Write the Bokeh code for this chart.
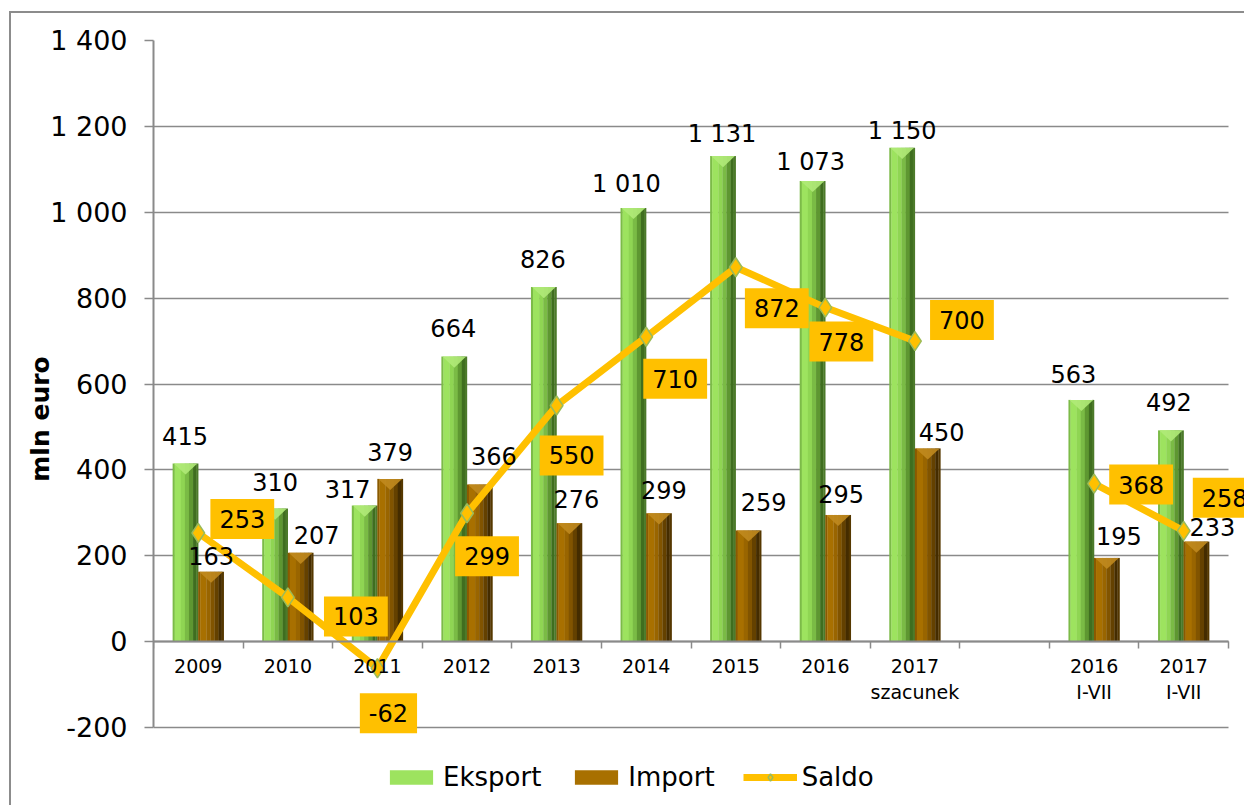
from bokeh.plotting import figure
from bokeh.models import Range1d, FixedTicker, ColumnDataSource, Legend, LegendItem
from bokeh.transform import dodge
from bokeh.core.properties import value
from bokeh.embed import file_html
from bokeh.resources import INLINE

NaN = float("nan")

# ---------------- data ----------------
categories = ["2009", "2010", "2011", "2012", "2013", "2014", "2015", "2016",
              "2017\nszacunek", "", "2016\nI-VII", "2017\nI-VII"]
eksport = [415, 310, 317, 664, 826, 1010, 1131, 1073, 1150, NaN, 563, 492]
import_ = [163, 207, 379, 366, 276, 299, 259, 295, 450, NaN, 195, 233]
saldo = [253, 103, -62, 299, 550, 710, 872, 778, 700, NaN, 368, 258]
y_ticks = [-200, 0, 200, 400, 600, 800, 1000, 1200, 1400]

# ---------------- label placement (style, screen px) ----------------
eks_dx = [-0.5, 0, -17, -1, -1, -7, -1, -2, 0, 0, -8, -2]
eks_gap = [17, 17, 7, 19, 18, 14, 12, 9, 7, 0, 16, 18]
imp_dx = [0, 16, 0, 14, 7, 5, 15, 3, 14, 0, 12, 16]
imp_gap = [6, 8, 17, 18, 14, 13, 18, 11, 6, 0, 12, 5]
sal_dx = [44, 68, 11, 20, 15, 29, 41, 16, 47, 0, 47, 41]
sal_dy = [-14, 19, 45, 43, 50, 42, 41, 34, -21, 0, 1, -33]
BASE_SHIFT = 10  # renderer places the alphabetic baseline this much lower


def fmt(v):
    if v != v:
        return ""
    return f"{int(v):,}".replace(",", " ")


FONT = "DejaVu Sans"
GRID = "#8a8a8a"

# layout (canvas px): value axis spans TOP..AXIS_BOTTOM, frame continues down
# to FRAME_BOTTOM so the legend can sit under the -200 line; the category
# area spans LEFT..AXIS_RIGHT, frame continues to the canvas edge
W_CANVAS, H = 1235, 794
TOP, AXIS_BOTTOM, FRAME_BOTTOM = 27, 714, 784
LEFT, AXIS_RIGHT = 142, 1217
y_lo, y_hi = y_ticks[0], y_ticks[-1]
px_per_unit = (AXIS_BOTTOM - TOP) / (y_hi - y_lo)
y_start = y_hi - (FRAME_BOTTOM - TOP) / px_per_unit
n = len(categories)
px_per_cat = (AXIS_RIGHT - LEFT) / n
x_lo, x_hi = -0.5, n - 0.5
x_end = x_hi + (W_CANVAS - AXIS_RIGHT) / px_per_cat

xs = list(range(n))
src = ColumnDataSource(dict(
    x=xs, eks=eksport, imp=import_, sal=saldo,
    eks_t=[fmt(v) for v in eksport], imp_t=[fmt(v) for v in import_],
    sal_t=[fmt(v) for v in saldo],
    eks_dx=eks_dx, eks_dy=[-(g + BASE_SHIFT) for g in eks_gap],
    imp_dx=imp_dx, imp_dy=[-(g + BASE_SHIFT) for g in imp_gap],
    sal_dx=sal_dx, sal_dy=sal_dy,
))

p = figure(width=W_CANVAS, height=H,
           x_range=Range1d(x_lo, x_end),
           y_range=Range1d(y_start, y_hi),
           output_backend="svg", toolbar_location=None,
           min_border_left=LEFT, min_border_right=0,
           min_border_top=TOP, min_border_bottom=H - FRAME_BOTTOM)
p.styles = {"margin-left": "9px", "margin-top": "11px",
            "border-left": "2px solid #8c8c8c", "border-top": "2px solid #8c8c8c"}
p.outline_line_color = None
p.background_fill_color = "white"
p.border_fill_color = "white"

# grid / axes
p.xgrid.grid_line_color = None
p.ygrid.grid_line_color = GRID
p.ygrid.grid_line_width = 1.5
try:
    p.ygrid[0].cross_bounds = (x_lo, x_hi)
except Exception:
    p.ygrid.grid_line_color = None
    p.segment(x0=x_lo, x1=x_hi, y0=y_ticks, y1=y_ticks,
              line_color=GRID, line_width=1.5, level="underlay")

yax = p.yaxis[0]
yax.bounds = (y_lo, y_hi)
yax.ticker = FixedTicker(ticks=y_ticks)
yax.major_label_overrides = {v: fmt(v) for v in y_ticks}
yax.major_label_text_font = FONT
yax.major_label_text_font_size = "27px"
yax.major_label_text_color = "black"
yax.major_label_standoff = 17
yax.major_tick_out = 9
yax.major_tick_in = 0
yax.minor_tick_line_color = None
yax.axis_line_color = GRID
yax.axis_line_width = 2
yax.major_tick_line_color = GRID
yax.major_tick_line_width = 1.5
yax.axis_label = "mln euro"
yax.axis_label_text_font = FONT
yax.axis_label_text_font_size = "25px"
yax.axis_label_text_font_style = "bold"
yax.axis_label_text_color = "black"
yax.axis_label_standoff = -8

xax = p.xaxis[0]
xax.fixed_location = 0
xax.bounds = (x_lo, x_hi)
xax.ticker = FixedTicker(ticks=xs, minor_ticks=[i - 0.5 for i in range(n + 1)])
xax.major_label_overrides = {i: c for i, c in enumerate(categories)}
xax.major_label_text_font = FONT
xax.major_label_text_font_size = "19px"
xax.major_label_text_color = "black"
xax.major_label_standoff = 6
xax.major_tick_out = 0
xax.major_tick_in = 0
xax.major_tick_line_color = None
xax.minor_tick_out = 7
xax.minor_tick_in = 0
xax.minor_tick_line_color = GRID
xax.minor_tick_line_width = 1.5
xax.axis_line_color = GRID
xax.axis_line_width = 2

# ---------------- bars (striped to imitate bevel shading) ----------------
W = 0.285  # bar width in category units
stripes = [(0, 2), (2, 8), (8, 12), (12, 16), (16, 20), (20, 23), (23, 25)]
green = ["#7cbb48", "#9de35f", "#8fd553", "#7abb45", "#5e9731", "#3f6e1f", "#4c7a2a"]
brown = ["#8a5a00", "#a87000", "#996500", "#815400", "#644100", "#442c00", "#553800"]

legend_r = {}
for field, off, cols, key in (("eks", -W / 2, green, "e"), ("imp", W / 2, brown, "i")):
    for (s0, s1), c in zip(stripes, cols):
        cx = off - W / 2 + (s0 + s1) / 2 / 25 * W
        r = p.vbar(x=dodge("x", cx, range=p.x_range), top=field, bottom=0,
                   width=(s1 - s0) / 25 * W + 0.003, source=src,
                   fill_color=c, line_color=None)
        if (s0, s1) == (2, 8):
            legend_r[key] = r

# top bevel triangles, computed from the data
d = 26
for vals, off, col in ((eksport, -W / 2, "#b0ea78"), (import_, W / 2, "#c08a1e")):
    pxs, pys = [], []
    for i, v in zip(xs, vals):
        if v != v:
            continue
        c = i + off
        pxs.append([c - W / 2 + 0.01, c + W / 2 - 0.01, c])
        pys.append([v, v, v - d])
    p.patches(pxs, pys, fill_color=col, line_color=None, fill_alpha=0.9)

# ---------------- saldo line ----------------
sal_line = p.line("x", "sal", source=src, line_color="#FFC000", line_width=7)
sal_pts = p.scatter("x", "sal", source=src, marker="diamond", size=19,
                    fill_color="#FFC000", line_color="#9bbb59", line_width=1.5)

# ---------------- labels ----------------
p.text(x=dodge("x", -W / 2, range=p.x_range), y="eks", text="eks_t", source=src,
       x_offset="eks_dx", y_offset="eks_dy", text_align="center",
       text_baseline="alphabetic", text_font=value(FONT),
       text_font_size="24px", text_color="black")
p.text(x=dodge("x", W / 2, range=p.x_range), y="imp", text="imp_t", source=src,
       x_offset="imp_dx", y_offset="imp_dy", text_align="center",
       text_baseline="alphabetic", text_font=value(FONT),
       text_font_size="24px", text_color="black")
p.text(x="x", y="sal", text="sal_t", source=src,
       x_offset="sal_dx", y_offset="sal_dy", text_align="center",
       text_baseline="middle", text_font=value(FONT),
       text_font_size="24px", text_color="black",
       background_fill_color="#FFC000", padding=(9, 11))

# ---------------- legend ----------------
legend = Legend(items=[
    LegendItem(label="Eksport", renderers=[legend_r["e"]]),
    LegendItem(label="Import", renderers=[legend_r["i"]]),
    LegendItem(label="Saldo", renderers=[sal_line, sal_pts]),
], orientation="horizontal", location=(231, 5),
    label_text_font=FONT, label_text_font_size="26px", label_text_color="black",
    glyph_width=54, glyph_height=18, label_standoff=5, spacing=28,
    padding=0, margin=0, border_line_color=None, background_fill_alpha=0)
p.add_layout(legend, "center")

open("out.html", "w").write(file_html(p, INLINE))
